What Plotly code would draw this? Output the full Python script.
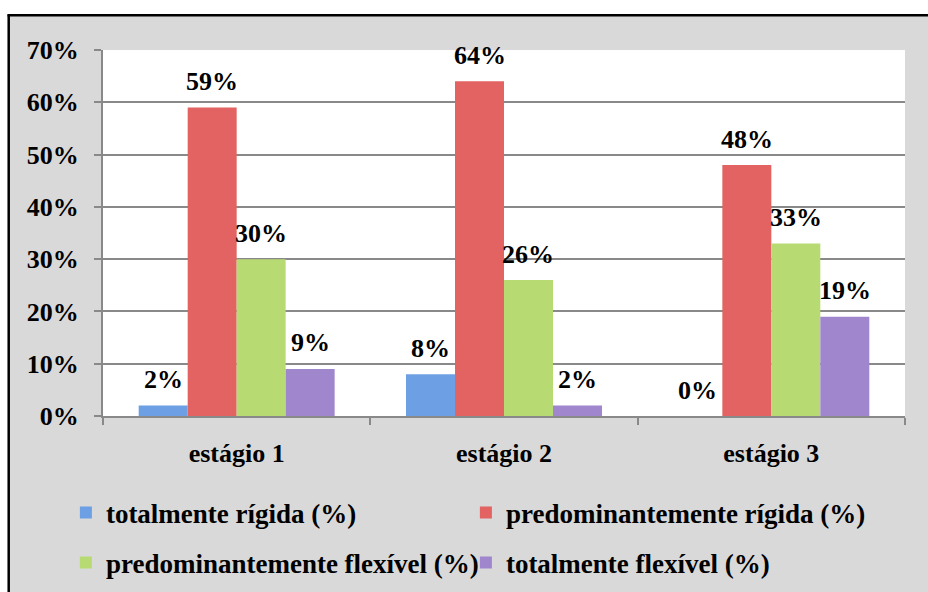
import plotly.graph_objects as go

# Categories and series values (percent)
stages = ["estágio 1", "estágio 2", "estágio 3"]
series_names = [
    "totalmente rígida (%)",
    "predominantemente rígida (%)",
    "predominantemente flexível (%)",
    "totalmente flexível (%)",
]
totalmente_rigida = [2, 8, 0]
predominantemente_rigida = [59, 64, 48]
predominantemente_flexivel = [30, 26, 33]
totalmente_flexivel = [9, 2, 19]
y_tick_values = [0, 10, 20, 30, 40, 50, 60, 70]
y_tick_labels = ["0%", "10%", "20%", "30%", "40%", "50%", "60%", "70%"]

series_values = [totalmente_rigida, predominantemente_rigida,
                 predominantemente_flexivel, totalmente_flexivel]
colors = ["#6c9fe4", "#e36262", "#b7db72", "#a086cd"]
legend_ids = ["legend", "legend", "legend2", "legend2"]

FONT = "Liberation Serif"
FS = 26
FS_LEGEND = 27
BARGAP = 0.267

fig = go.Figure()
for name, vals, col, lg in zip(series_names, series_values, colors, legend_ids):
    fig.add_trace(go.Bar(
        x=stages, y=vals, name=f"<b>{name}</b>",
        marker=dict(color=col, line=dict(width=0)),
        legend=lg,
    ))

# value labels above each bar
n = len(series_values)
bw = (1 - BARGAP) / n
for j, vals in enumerate(series_values):
    for i, v in enumerate(vals):
        fig.add_annotation(
            x=i + (j - (n - 1) / 2) * bw, y=v, xref="x", yref="y",
            text=f"<b>{v}%</b>", showarrow=False, yanchor="middle", yshift=26,
            font=dict(family=FONT, size=FS, color="black"),
        )

W, H = 928, 592
ML, MR, MT, MB = 103, 23, 50, 176
pw, ph = W - ML - MR, H - MT - MB

def px_x(p):
    return (p - ML) / pw

def px_y(p):
    return (H - MB - p) / ph

shapes = [
    # white outer strips and the black frame
    dict(type="rect", xref="paper", yref="paper", x0=px_x(-5), x1=px_x(8.5),
         y0=px_y(600), y1=px_y(-5), fillcolor="white", line_width=0, layer="above"),
    dict(type="rect", xref="paper", yref="paper", x0=px_x(-5), x1=px_x(935),
         y0=px_y(14.5), y1=px_y(-5), fillcolor="white", line_width=0, layer="above"),
    dict(type="line", xref="paper", yref="paper", x0=px_x(8.7), x1=px_x(8.7),
         y0=px_y(14.5), y1=px_y(600), line=dict(color="black", width=2.5), layer="above"),
    dict(type="line", xref="paper", yref="paper", x0=px_x(7.5), x1=px_x(935),
         y0=px_y(15.3), y1=px_y(15.3), line=dict(color="black", width=2.5), layer="above"),
]

legend_style = dict(orientation="h", xref="container", yref="container",
                    x=0.071, xanchor="left", yanchor="middle",
                    entrywidth=355, entrywidthmode="pixels", bgcolor="rgba(0,0,0,0)",
                    font=dict(family=FONT, size=FS_LEGEND, color="black"),
                    traceorder="normal")

fig.update_layout(
    width=W, height=H,
    margin=dict(l=ML, r=MR, t=MT, b=MB, pad=0),
    paper_bgcolor="#d9d9d9", plot_bgcolor="white",
    barmode="group", bargap=BARGAP, bargroupgap=0,
    font=dict(family=FONT, size=FS, color="black"),
    showlegend=True,
    legend=dict(legend_style, y=1 - 513 / 592),
    legend2=dict(legend_style, y=1 - 563 / 592),
    shapes=shapes,
)

fig.update_xaxes(
    showline=True, linecolor="#898989", linewidth=2,
    ticks="outside", tickson="boundaries", ticklen=7, tickwidth=2, tickcolor="#898989",
    tickfont=dict(family=FONT, size=FS, color="black"),
    tickvals=stages, ticktext=[f"<b>{s}</b>" for s in stages],
    ticklabelstandoff=13,
    showgrid=False,
)
fig.update_yaxes(
    range=[0, 70], tickvals=y_tick_values,
    ticktext=[f"<b>{t}</b>" for t in y_tick_labels],
    showline=True, linecolor="#898989", linewidth=2,
    ticks="outside", ticklen=7, tickwidth=2, tickcolor="#898989",
    showgrid=True, gridcolor="#898989", gridwidth=2,
    tickfont=dict(family=FONT, size=FS, color="black"),
    ticklabelstandoff=10, zeroline=False,
)

fig.write_html("out.html")
